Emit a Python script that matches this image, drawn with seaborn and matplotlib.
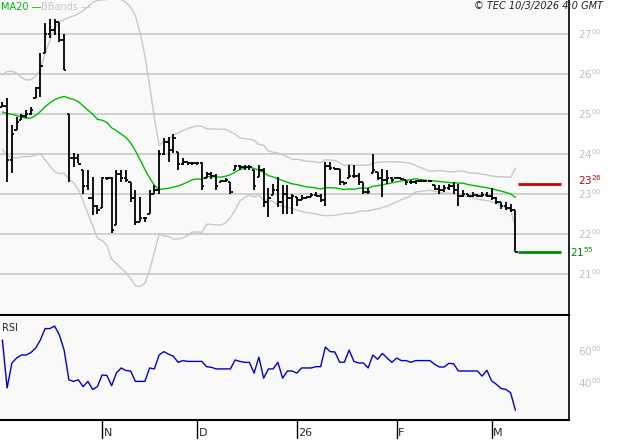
import numpy as np
import pandas as pd
import matplotlib
matplotlib.use("Agg")
import matplotlib.pyplot as plt
import matplotlib.transforms as mtrans
import seaborn as sns

# ---- data ----
pre_close = [24.6, 24.9, 25.4, 25.8, 25.5, 25.0, 24.4, 24.2, 24.6, 25.2,
             25.7, 25.9, 25.4, 24.8, 24.5, 24.9, 25.3, 25.0, 24.7]
high = [25.30, 25.40, 24.72, 24.92, 25.00, 25.10, 25.17, 25.67, 26.52, 27.27,
        27.37, 27.37, 27.30, 27.00, 25.00, 24.02, 24.00, 23.60, 23.60, 23.43,
        22.72, 23.43, 23.43, 23.43, 23.60, 23.60, 23.60, 23.30, 23.10, 22.93,
        22.43, 23.10, 23.22, 24.10, 24.40, 24.43, 24.50, 24.06, 23.90, 23.80,
        23.80, 23.80, 23.80, 23.56, 23.56, 23.50, 23.35, 23.40, 23.30, 23.72,
        23.72, 23.72, 23.72, 23.60, 23.73, 23.64, 23.14, 23.26, 23.43, 23.22,
        23.22, 23.00, 22.92, 22.97, 22.93, 23.02, 23.05, 23.00, 23.81, 23.81,
        23.64, 23.62, 23.30, 23.73, 23.73, 23.52, 23.30, 23.14, 24.00, 23.56,
        23.62, 23.60, 23.43, 23.43, 23.41, 23.35, 23.35, 23.35, 23.35, 23.35,
        23.35, 23.22, 23.22, 23.22, 23.26, 23.30, 23.26, 23.09, 23.00, 23.04,
        23.00, 23.04, 23.04, 23.14, 22.92, 22.80, 22.80, 22.75, 22.60]
low = [25.18, 23.30, 23.52, 24.60, 24.85, 24.90, 24.97, 25.40, 25.42, 26.52,
       26.90, 26.97, 26.80, 26.10, 23.30, 23.68, 23.77, 23.00, 23.10, 22.48,
       22.50, 22.64, 23.35, 22.02, 22.22, 23.30, 23.30, 22.80, 22.22, 22.30,
       22.30, 22.50, 23.00, 23.00, 23.98, 23.80, 24.02, 23.60, 23.72, 23.72,
       23.72, 23.72, 23.10, 23.40, 23.38, 23.10, 23.30, 23.30, 23.00, 23.60,
       23.60, 23.60, 23.60, 23.10, 23.43, 22.67, 22.42, 22.97, 22.67, 22.50,
       22.50, 22.50, 22.70, 22.84, 22.88, 22.92, 22.94, 22.80, 22.70, 23.60,
       23.60, 23.22, 23.22, 23.39, 23.39, 23.22, 23.00, 23.00, 23.52, 23.35,
       22.92, 23.26, 23.30, 23.39, 23.35, 23.22, 23.26, 23.26, 23.30, 23.30,
       23.30, 23.09, 23.00, 23.05, 23.09, 23.00, 22.70, 22.92, 22.92, 22.92,
       22.92, 22.92, 22.92, 22.84, 22.75, 22.63, 22.60, 22.54, 21.55]
close = [25.20, 23.85, 24.50, 24.80, 24.95, 25.00, 25.10, 25.65, 26.20, 27.00,
         27.10, 27.30, 26.85, 26.10, 23.90, 23.90, 23.75, 23.20, 22.90, 22.70,
         22.60, 23.40, 23.40, 22.10, 23.50, 23.40, 23.35, 22.90, 22.30, 22.40,
         22.40, 23.00, 23.10, 24.00, 24.30, 24.10, 24.40, 23.75, 23.80, 23.78,
         23.78, 23.78, 23.20, 23.50, 23.45, 23.20, 23.32, 23.35, 23.05, 23.70,
         23.68, 23.68, 23.68, 23.20, 23.60, 22.80, 22.90, 23.10, 22.80, 23.00,
         22.90, 22.95, 22.85, 22.90, 22.92, 22.98, 22.96, 22.85, 23.70, 23.65,
         23.62, 23.30, 23.28, 23.45, 23.45, 23.30, 23.05, 23.05, 23.60, 23.40,
         23.35, 23.40, 23.35, 23.40, 23.38, 23.30, 23.30, 23.32, 23.33, 23.32,
         23.32, 23.12, 23.10, 23.15, 23.20, 23.10, 22.95, 23.00, 22.95, 22.98,
         22.95, 22.98, 22.96, 22.90, 22.80, 22.70, 22.65, 22.60, 21.55]
rsi = [66.9, 36.9, 52.5, 55.6, 57.5, 57.5, 59.0, 61.8, 66.9, 74.0,
       74.0, 75.6, 70.0, 60.6, 42.0, 41.0, 42.0, 37.7, 41.0, 36.0,
       37.7, 45.0, 44.7, 38.3, 46.2, 49.4, 47.8, 47.5, 41.0, 41.0,
       41.0, 49.4, 48.8, 57.5, 59.6, 58.0, 56.7, 52.9, 54.0, 53.5,
       53.5, 53.5, 53.5, 50.2, 49.8, 48.8, 48.8, 48.8, 48.8, 54.4,
       53.5, 52.9, 52.9, 46.2, 56.2, 43.0, 48.8, 48.8, 52.9, 43.0,
       47.5, 47.5, 46.2, 49.4, 49.4, 49.4, 50.2, 50.2, 62.5, 59.6,
       59.4, 53.0, 53.0, 60.6, 53.5, 52.5, 52.5, 49.4, 57.5, 54.8,
       58.5, 55.6, 52.9, 55.6, 54.0, 54.0, 52.9, 54.0, 54.0, 54.0,
       54.0, 51.7, 50.0, 50.0, 52.3, 52.0, 47.5, 47.5, 47.5, 47.5,
       47.5, 44.3, 48.0, 41.3, 39.2, 36.5, 36.0, 33.9, 23.0]
month_labels = ["N", "D", "26", "F", "M"]
month_idx = [21, 41, 62, 83, 103]
price_ticks = [21, 22, 23, 24, 25, 26, 27]
rsi_ticks = [40, 60]
level_high = 23.26
level_last = 21.55

n = len(close)
idx = np.arange(n)
allc = pd.Series(pre_close + close)
ma = allc.rolling(20).mean().iloc[len(pre_close):].to_numpy()
sd = allc.rolling(20).std(ddof=0).iloc[len(pre_close):].to_numpy()
df = pd.DataFrame({"i": idx, "ma": ma, "up": ma + 2 * sd, "lo": ma - 2 * sd, "rsi": rsi})
opens = [pre_close[-1]] + close[:-1]
opens = np.clip(opens, low, high)

sns.set_style("white")
plt.rcParams["font.family"] = ["DejaVu Sans"]
fig = plt.figure(figsize=(6.27, 4.40), dpi=100)
fig.patch.set_facecolor("white")
W = 569 / 627
ax = fig.add_axes([0, 1 - 315 / 440, W, 315 / 440])
ax2 = fig.add_axes([0, 1 - 420 / 440, W, 104 / 440])
xl = (-0.5, -0.5 + 569 / 4.75)
for a in (ax, ax2):
    a.set_facecolor("#f9f9f9")
    a.set_xlim(*xl)
    for s in ("left", "top"):
        a.spines[s].set_visible(False)
    a.spines["right"].set_color("black")
    a.spines["bottom"].set_color("black")
    a.spines["right"].set_linewidth(1.2)
    a.spines["bottom"].set_linewidth(1.5)
ax.set_ylim(27 - 281 / 40, 27 + 34 / 40)
for t in price_ticks:
    ax.axhline(t, color="#c8c8c8", lw=1.2, zorder=0)
sns.lineplot(data=df, x="i", y="up", ax=ax, color="#c8c8c8", lw=1)
sns.lineplot(data=df, x="i", y="lo", ax=ax, color="#c8c8c8", lw=1)
sns.lineplot(data=df, x="i", y="ma", ax=ax, color="#00bb00", lw=1)
ax.vlines(idx, low, high, color="black", lw=1.3)
ax.hlines(opens, idx - 0.45, idx, color="black", lw=1.3)
ax.hlines(close, idx, idx + 0.45, color="black", lw=1.3)
ax.hlines(level_high, 108.5, 117.7, color="#cc0000", lw=2)
ax.hlines(level_last, 108.5, 117.7, color="#008800", lw=2)
ax.set_xticks([]); ax.set_yticks([])
ax.set_xlabel(""); ax.set_ylabel("")
tr = mtrans.blended_transform_factory(ax.transAxes, ax.transData)

def sup(v):
    a, b = f"{v:.2f}".split(".")
    return r"$\mathregular{" + a + "^{" + b + "}}$"

for t in price_ticks:
    ax.text(1.015, t, sup(t), transform=tr, color="#c0c0c0", fontsize=7.5, va="center", ha="left")
ax.text(1.015, level_high + 0.09, sup(level_high), transform=tr, color="#cc0000", fontsize=7.5, va="center", ha="left")
ax.text(1.002, level_last, sup(level_last), transform=tr, color="#008800", fontsize=7.5, va="center", ha="left")
ax.text(0.002, 0.995, "MA20 —", transform=ax.transAxes, color="#00bb00", fontsize=7, va="top")
ax.text(0.072, 0.995, "BBands —", transform=ax.transAxes, color="#c8c8c8", fontsize=7, va="top")
fig.text(0.962, 0.997, "© TEC 10/3/2026 4:0 GMT", ha="right", va="top", fontsize=7, style="italic", color="#222222")

sns.lineplot(data=df, x="i", y="rsi", ax=ax2, color="#0000cc", lw=1)
ax2.set_ylim(60 - 69 / 1.6, 60 + 35 / 1.6)
ax2.set_xticks([]); ax2.set_yticks([])
ax2.set_xlabel(""); ax2.set_ylabel("")
tr2 = mtrans.blended_transform_factory(ax2.transAxes, ax2.transData)
for t in rsi_ticks:
    ax2.text(1.015, t, sup(t), transform=tr2, color="#c0c0c0", fontsize=7.5, va="center", ha="left")
ax2.text(0.004, 0.93, "RSI", transform=ax2.transAxes, fontsize=7, va="top")
trx = mtrans.blended_transform_factory(ax2.transData, ax2.transAxes)
for lab, i in zip(month_labels, month_idx):
    ax2.plot([i, i], [0, -0.17], transform=trx, color="black", lw=1, clip_on=False)
    ax2.text(i + 0.3, -0.175, lab, transform=trx, fontsize=8, va="bottom", ha="left")
fig.savefig("out.png", dpi=100)
